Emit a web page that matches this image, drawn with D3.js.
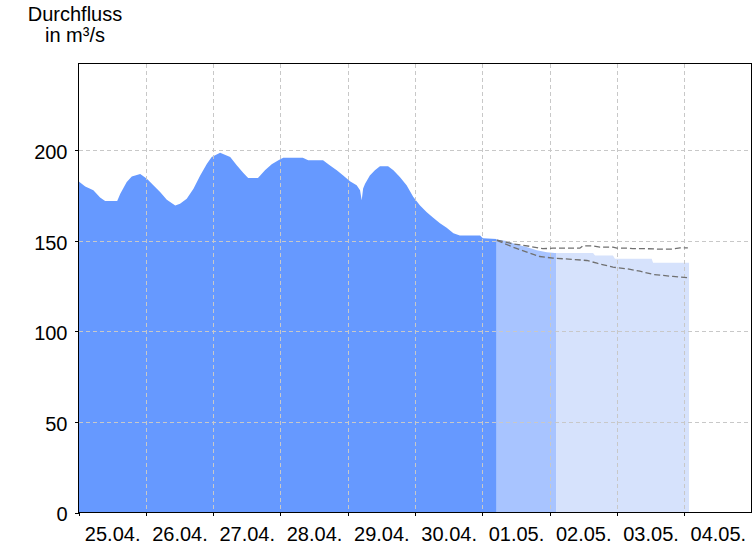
<!DOCTYPE html>
<html>
<head>
<meta charset="utf-8">
<script src="https://cdn.jsdelivr.net/npm/d3@7"></script>
<style>
  html, body { margin: 0; padding: 0; background: #fff; }
  svg { display: block; }
  text { font-family: "Liberation Sans", Arial, sans-serif; fill: #000; }
</style>
</head>
<body>
<svg id="chart" width="756" height="546"></svg>
<script>
// ---- DATA (hours after 25.04. 00:00) ----
const startDate = new Date(2023, 3, 25, 0, 0);
const endDate = new Date(2023, 4, 5, 0, 0);

const obsHours = [0, 2.4, 5.3, 7.7, 9.5, 13.8, 14.9, 17.2, 19, 22, 24.4, 26.7, 29.1, 31.5, 34.5, 36.2, 38.6, 41, 43.4, 45.8, 47.5, 50.5, 54.1, 56.5, 58.8, 60.5, 64, 66.5, 68.9, 71.3, 73, 80, 81.9, 87.2, 89.7, 92.1, 94.4, 96.8, 99.2, 100.4, 101, 101.5, 102.2, 103.9, 105.7, 107.5, 110.4, 112.3, 114.6, 117, 119.4, 121.8, 124.2, 126.5, 128.9, 131.3, 133.7, 136, 143.2, 144.2, 149.1];
const obsValues = [183, 180, 178, 174, 172, 172, 176, 182.5, 185.6, 187, 184.3, 180.7, 177, 172.7, 169.6, 170.5, 173.3, 178.8, 186.2, 192.6, 196.3, 198.7, 196.3, 191.7, 187.5, 184.7, 184.7, 189, 192.3, 194.5, 196, 196, 194.5, 194.5, 191.7, 189, 186.2, 183, 180.7, 178, 172.4, 179, 181.6, 186.2, 189, 191.2, 191.2, 189, 185.3, 180.7, 174.2, 169.6, 165.9, 162.8, 159.8, 157.3, 154.3, 153, 153, 151.5, 151];

const fcHours = [149.1, 152.7, 156.2, 159.8, 163.4, 167, 169.9, 183.5, 184.2, 190.6, 191.3, 204.4, 204.9, 217.8];
const fcValues = [150.8, 149.9, 148, 146.6, 144.8, 143.8, 143.3, 143.3, 142, 142, 140.2, 140.2, 138, 138];

const upperHours = [149.2, 154.9, 161, 165.6, 169.2, 178.8, 179.9, 183.4, 185.9, 190.6, 192, 195.6, 197.7, 202.7, 206.3, 212, 214.5, 217.3];
const upperValues = [150.5, 148.4, 147, 145.7, 146, 146, 147.3, 147.3, 146.6, 146.6, 146, 146, 145.7, 145.7, 145.5, 145.5, 146.2, 146.2];

const lowerHours = [149.2, 154.9, 159.9, 164.5, 169.2, 176.3, 181.3, 184.9, 190.6, 195.6, 200.2, 204.9, 212, 217.3];
const lowerValues = [150.3, 146.6, 143.8, 141.4, 140.5, 139.8, 139.2, 137.7, 135.5, 134.6, 133.3, 131.5, 130.4, 129.7];

// forecast zone boundaries (hours): near-term / long-term
const zoneHours = [149.1, 170.3, 217.8];

const yTicks = [0, 50, 100, 150, 200];
const yMax = 248;
const titleLines = ["Durchfluss", "in m³/s"];

// ---- LAYOUT ----
const svg = d3.select("#chart");
const L = 78.5, R = 751.5, T = 63.5, B = 512.5;

const x = d3.scaleTime().domain([startDate, endDate]).range([L, R]);
const y = d3.scaleLinear().domain([0, yMax]).range([B, T]);
const toDate = h => d3.timeMinute.offset(startDate, Math.round(h * 60));

const obs = obsHours.map((h, i) => ({ t: toDate(h), v: obsValues[i] }));
const fc = fcHours.map((h, i) => ({ t: toDate(h), v: fcValues[i] }));
const up = upperHours.map((h, i) => ({ t: toDate(h), v: upperValues[i] }));
const lo = lowerHours.map((h, i) => ({ t: toDate(h), v: lowerValues[i] }));

const area = d3.area().x(d => x(d.t)).y0(y(0)).y1(d => y(d.v));
const line = d3.line().x(d => x(d.t)).y(d => y(d.v));

// clip paths for forecast zones
const defs = svg.append("defs");
const zoneColors = ["#a8c4ff", "#d6e2fc"];
for (let i = 0; i < 2; i++) {
  defs.append("clipPath").attr("id", "zone" + i)
    .append("rect")
    .attr("x", x(toDate(zoneHours[i])))
    .attr("y", T)
    .attr("width", x(toDate(zoneHours[i + 1])) - x(toDate(zoneHours[i])))
    .attr("height", B - T);
}

// forecast areas
for (let i = 0; i < 2; i++) {
  svg.append("path").datum(fc)
    .attr("d", area)
    .attr("fill", zoneColors[i])
    .attr("clip-path", "url(#zone" + i + ")");
}

// observed area
svg.append("path").datum(obs)
  .attr("d", area)
  .attr("fill", "#6699ff");

// grid
const dayTicks = d3.timeDay.range(startDate, endDate);
const grid = svg.append("g").attr("stroke", "#c8c8c8").attr("stroke-width", 1)
  .attr("stroke-dasharray", "4,3").attr("shape-rendering", "crispEdges");
dayTicks.slice(1).forEach(d => {
  grid.append("line").attr("x1", Math.round(x(d)) + 0.5).attr("x2", Math.round(x(d)) + 0.5)
    .attr("y1", T).attr("y2", B);
});
yTicks.slice(1).forEach(v => {
  grid.append("line").attr("x1", L).attr("x2", R)
    .attr("y1", Math.round(y(v)) + 0.5).attr("y2", Math.round(y(v)) + 0.5);
});

// forecast band lines
[up, lo].forEach(data => {
  svg.append("path").datum(data)
    .attr("d", line)
    .attr("fill", "none")
    .attr("stroke", "#707070")
    .attr("stroke-width", 1.3)
    .attr("stroke-dasharray", "6,3");
});

// frame
svg.append("rect").attr("x", L).attr("y", T).attr("width", R - L).attr("height", B - T)
  .attr("fill", "none").attr("stroke", "#000").attr("stroke-width", 1)
  .attr("shape-rendering", "crispEdges");

// axes
const halfDay = (x(d3.timeDay.offset(startDate, 1)) - x(startDate)) / 2;
const xAxis = d3.axisBottom(x).tickValues(dayTicks).tickSize(3).tickPadding(10)
  .tickFormat(d3.timeFormat("%d.%m."));
const gx = svg.append("g").attr("transform", `translate(0,${B})`).call(xAxis);
gx.select(".domain").remove();
gx.selectAll(".tick line").attr("stroke", "#000").attr("shape-rendering", "crispEdges");
gx.selectAll(".tick text")
  .attr("x", halfDay)
  .attr("y", 14)
  .attr("dy", "0.71em")
  .style("font-family", "'Liberation Sans', Arial, sans-serif")
  .style("font-size", "20px").attr("fill", "#000");

const yAxis = d3.axisLeft(y).tickValues(yTicks).tickSize(4).tickPadding(7);
const gy = svg.append("g").attr("transform", `translate(${L},0)`).call(yAxis);
gy.select(".domain").remove();
gy.selectAll(".tick line").attr("stroke", "#000").attr("shape-rendering", "crispEdges");
gy.selectAll(".tick text")
  .attr("dy", "0.42em")
  .style("font-family", "'Liberation Sans', Arial, sans-serif")
  .style("font-size", "20px").attr("fill", "#000");

// title
svg.append("text").attr("x", 75).attr("y", 21).attr("text-anchor", "middle")
  .style("font-size", "20px").text(titleLines[0]);
svg.append("text").attr("x", 75).attr("y", 42).attr("text-anchor", "middle")
  .style("font-size", "20px").text(titleLines[1]);
</script>
</body>
</html>
